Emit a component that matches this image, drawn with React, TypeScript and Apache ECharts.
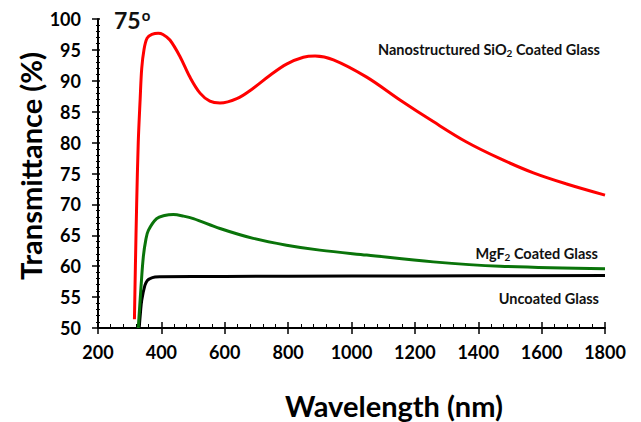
import React, { useEffect, useRef } from "react";
import * as echarts from "echarts";

const redSeries: [number, number][] = [
  [315, 51.4], [318, 60], [322, 70], [327, 80], [333, 87], [338, 92], [345, 95],
  [355, 96.9], [370, 97.5], [390, 97.7], [405, 97.5], [427, 96.6], [459, 93.9],
  [490, 90.6], [522, 88.0], [553, 86.7], [585, 86.4], [638, 87.1], [690, 88.8],
  [743, 90.9], [795, 92.7], [848, 93.8], [885, 94.0], [943, 93.4], [1048, 90.6],
  [1153, 86.9], [1258, 83.4], [1363, 80.1], [1469, 77.4], [1574, 75.1],
  [1679, 73.3], [1800, 71.5],
];
const greenSeries: [number, number][] = [
  [327, 50], [331, 53], [335, 56.1], [343, 61.5], [351, 64.3], [359, 65.8],
  [385, 67.7], [410, 68.2], [438, 68.35], [470, 68.1], [501, 67.7], [585, 66.1],
  [690, 64.5], [795, 63.4], [900, 62.6], [1048, 61.8], [1258, 60.7],
  [1469, 60.0], [1800, 59.6],
];
const blackSeries: [number, number][] = [
  [330, 50], [334, 52.5], [338, 54.5], [348, 56.9], [356, 57.7], [364, 58.0],
  [380, 58.25], [396, 58.3], [600, 58.35], [1000, 58.4], [1400, 58.45],
  [1800, 58.5],
];
const seriesNames = ["Nanostructured SiO2 Coated Glass", "MgF2 Coated Glass", "Uncoated Glass"];
const xRange = [200, 1800];
const yRange = [50, 100];

const FONT = "Lato";

export default function App() {
  const ref = useRef<HTMLDivElement>(null);
  useEffect(() => {
    document.body.style.margin = "0";
    if (!ref.current) return;
    const chart = echarts.init(ref.current, undefined, { renderer: "svg" });
    const axisText = { fontFamily: FONT, fontWeight: "bold" as const, fontSize: 18, color: "#000" };
    const labelRich = {
      b: { fontFamily: FONT, fontWeight: "bold" as const, fontSize: 14.5, fill: "#111" } as any,
      s: { fontFamily: FONT, fontWeight: "bold" as const, fontSize: 10, fill: "#111", padding: [8, 0, 0, 0] } as any,
    };
    const plain = (v: number) => String(v);
    chart.setOption({
      animation: false,
      grid: { left: 98, right: 36, top: 19, bottom: 94, containLabel: false },
      xAxis: [
        {
          type: "value", min: xRange[0], max: xRange[1], interval: 200,
          axisLine: { lineStyle: { color: "#000", width: 2 } },
          axisTick: { show: true, length: 6, inside: false, lineStyle: { color: "#000", width: 1.5 } },
          minorTick: { show: false },
          splitLine: { show: false },
          axisLabel: { ...axisText, margin: 15, formatter: plain },
        },
        {
          type: "value", min: xRange[0], max: xRange[1], interval: 200, position: "bottom",
          axisLine: { show: false },
          axisTick: { show: true, length: 6, inside: true, lineStyle: { color: "#000", width: 1.5 } },
          minorTick: { show: true, splitNumber: 5, length: 4, lineStyle: { color: "#000", width: 1 } },
          splitLine: { show: false },
          axisLabel: { show: false },
        },
      ],
      yAxis: [
        {
          type: "value", min: yRange[0], max: yRange[1], interval: 5,
          axisLine: { show: true, lineStyle: { color: "#000", width: 2 } },
          axisTick: { show: true, length: 6, inside: false, lineStyle: { color: "#000", width: 1.5 } },
          minorTick: { show: true, splitNumber: 5, length: 2, lineStyle: { color: "#000", width: 1 } },
          splitLine: { show: false },
          axisLabel: { ...axisText, margin: 17, formatter: plain },
        },
        {
          type: "value", min: yRange[0], max: yRange[1], interval: 5, position: "left",
          axisLine: { show: false },
          axisTick: { show: true, length: 2, inside: true, lineStyle: { color: "#000", width: 1.5 } },
          minorTick: { show: true, splitNumber: 5, length: 2, lineStyle: { color: "#000", width: 1 } },
          splitLine: { show: false },
          axisLabel: { show: false },
        },
      ],
      series: [
        {
          name: seriesNames[0], type: "line", data: redSeries, smooth: 0.35, showSymbol: false,
          lineStyle: { color: "#ff0000", width: 3 }, z: 3,
        },
        {
          name: seriesNames[1], type: "line", data: greenSeries, smooth: 0.35, showSymbol: false,
          lineStyle: { color: "#0a740a", width: 3 }, z: 2,
        },
        {
          name: seriesNames[2], type: "line", data: blackSeries, smooth: 0.35, showSymbol: false,
          lineStyle: { color: "#000000", width: 3 }, z: 1,
        },
      ],
      graphic: [
        {
          type: "text", x: 600, y: 49,
          style: {
            text: "{b|Nanostructured SiO}{s|2}{b| Coated Glass}", rich: labelRich,
            align: "right", verticalAlign: "middle",
          },
        },
        {
          type: "text", x: 598, y: 253,
          style: {
            text: "{b|MgF}{s|2}{b| Coated Glass}", rich: labelRich,
            align: "right", verticalAlign: "middle",
          },
        },
        {
          type: "text", x: 599, y: 298,
          style: {
            text: "{b|Uncoated Glass}", rich: labelRich,
            align: "right", verticalAlign: "middle",
          },
        },
        {
          type: "text", x: 114, y: 20,
          style: {
            text: "{a|75}{o|o}",
            rich: {
              a: { fontFamily: FONT, fontWeight: "bold", fontSize: 23, fill: "#111" },
              o: { fontFamily: FONT, fontWeight: "bold", fontSize: 15, fill: "#111", padding: [0, 0, 10, 1] },
            } as any,
            align: "left", verticalAlign: "middle",
          },
        },
        {
          type: "text", x: 394, y: 405,
          style: {
            text: "Wavelength (nm)", fontFamily: FONT, fontWeight: "bold", fontSize: 29, fill: "#000",
            align: "center", verticalAlign: "middle",
          },
        },
        {
          type: "text", x: 30, y: 166, rotation: Math.PI / 2,
          style: {
            text: "Transmittance (%)", fontFamily: FONT, fontWeight: "bold", fontSize: 29, fill: "#000",
            align: "center", verticalAlign: "middle",
          },
        },
      ],
    });
    return () => chart.dispose();
  }, []);
  return <div ref={ref} style={{ width: 641, height: 422 }} />;
}
